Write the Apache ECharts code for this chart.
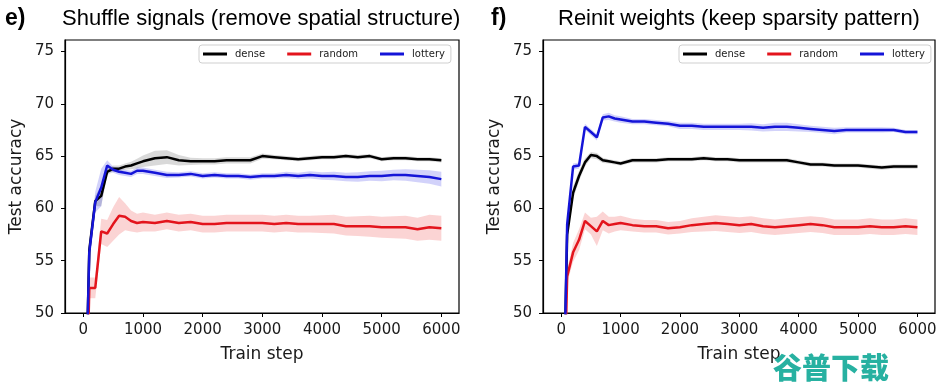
<!DOCTYPE html>
<html>
<head>
<meta charset="utf-8">
<script src="https://cdn.jsdelivr.net/npm/echarts@6/dist/echarts.min.js"></script>
<style>
html,body{margin:0;padding:0;background:#fff;}
#chart{width:952px;height:390px;}
</style>
</head>
<body>
<div id="chart"></div>
<script>
// ---- data ----
const steps = [50,100,200,300,400,500,600,700,800,900,1000,1200,1400,1600,1800,2000,2200,2400,2600,2800,3000,3200,3400,3600,3800,4000,4200,4400,4600,4800,5000,5200,5400,5600,5800,6000];
const xTicks = [0,1000,2000,3000,4000,5000,6000];
const yTicks = [50,55,60,65,70,75];
const seriesNames = ['dense','random','lottery'];

// panel e) Shuffle signals
const eDense   = [44,56.0,60.7,61.2,63.5,63.8,63.8,64.0,64.1,64.3,64.5,64.8,64.9,64.6,64.5,64.5,64.5,64.6,64.6,64.6,65.0,64.9,64.8,64.7,64.8,64.9,64.9,65.0,64.9,65.0,64.7,64.8,64.8,64.7,64.7,64.6];
const eRandom  = [40,52.4,52.4,57.8,57.6,58.5,59.3,59.2,58.8,58.6,58.7,58.6,58.8,58.6,58.7,58.5,58.5,58.6,58.6,58.6,58.6,58.5,58.6,58.5,58.5,58.5,58.5,58.3,58.3,58.3,58.2,58.2,58.2,58.0,58.2,58.1];
const eLottery = [44,55.8,60.6,62.0,64.1,63.7,63.5,63.4,63.3,63.6,63.6,63.4,63.2,63.2,63.3,63.1,63.2,63.1,63.1,63.0,63.1,63.1,63.2,63.1,63.2,63.1,63.1,63.0,63.0,63.1,63.1,63.2,63.2,63.1,63.0,62.8];
// band half-widths (from step 100 on)
const eDenseSd   = [0.8,0.5,1.0,0.3,0.3,0.3,0.3,0.35,0.45,0.55,0.7,0.65,0.5,0.35,0.3,0.3,0.3,0.3,0.3,0.25,0.2,0.2,0.2,0.2,0.2,0.2,0.2,0.2,0.2,0.2,0.2,0.2,0.2,0.2,0.2];
const eRandomSd  = [1.0,1.0,1.2,1.3,1.6,1.8,1.3,1.0,0.9,0.9,0.8,0.8,0.8,0.8,0.8,0.8,0.8,0.8,0.8,0.8,0.8,0.8,0.8,0.8,0.85,0.9,0.9,0.95,1.0,1.0,1.05,1.1,1.1,1.2,1.2];
const eLotterySd = [0.8,1.0,1.8,0.5,0.3,0.3,0.3,0.3,0.3,0.3,0.3,0.3,0.25,0.25,0.25,0.25,0.25,0.25,0.25,0.25,0.25,0.3,0.3,0.35,0.35,0.4,0.4,0.45,0.45,0.5,0.5,0.55,0.6,0.65,0.7];

// panel f) Reinit weights
const fDense   = [44,57.5,61.5,63.1,64.4,65.1,65.0,64.6,64.5,64.4,64.3,64.6,64.6,64.6,64.7,64.7,64.7,64.8,64.7,64.7,64.6,64.6,64.6,64.6,64.6,64.4,64.2,64.2,64.1,64.1,64.1,64.0,63.9,64.0,64.0,64.0];
const fRandom  = [42,53.5,55.8,57.0,58.8,58.3,57.8,58.8,58.4,58.5,58.6,58.4,58.3,58.3,58.1,58.2,58.4,58.5,58.6,58.5,58.4,58.5,58.3,58.2,58.3,58.4,58.5,58.4,58.2,58.2,58.2,58.3,58.2,58.2,58.3,58.2];
const fLottery = [44,58.5,64.0,64.1,67.8,67.3,66.8,68.7,68.8,68.6,68.5,68.3,68.3,68.2,68.1,67.9,67.9,67.8,67.8,67.8,67.8,67.8,67.7,67.8,67.8,67.7,67.6,67.5,67.4,67.5,67.5,67.5,67.5,67.5,67.3,67.3];
const fDenseSd   = [0.5,0.6,0.5,0.4,0.3,0.3,0.25,0.2,0.2,0.2,0.2,0.2,0.2,0.2,0.2,0.2,0.2,0.2,0.2,0.2,0.2,0.2,0.2,0.2,0.2,0.2,0.2,0.2,0.2,0.2,0.2,0.2,0.2,0.2,0.2];
const fRandomSd  = [0.6,0.9,1.0,0.8,0.8,1.4,0.9,0.8,0.7,0.7,0.6,0.6,0.6,0.6,0.6,0.65,0.7,0.75,0.75,0.75,0.75,0.75,0.75,0.75,0.75,0.75,0.75,0.75,0.75,0.75,0.75,0.75,0.75,0.75,0.75];
const fLotterySd = [0.3,0.3,0.3,0.3,0.3,0.3,0.3,0.35,0.3,0.3,0.25,0.25,0.25,0.25,0.3,0.3,0.3,0.3,0.3,0.3,0.35,0.35,0.4,0.4,0.35,0.3,0.3,0.3,0.25,0.25,0.25,0.25,0.2,0.2,0.2];

// ---- styles ----
const COLORS = {dense:'#000000', random:'#e3141c', lottery:'#1414d8'};
const BANDS  = {dense:'rgba(0,0,0,0.15)', random:'rgba(235,40,40,0.2)', lottery:'rgba(30,30,230,0.2)'};
const TICK_FONT = 'DejaVu Sans';

function lineSeries(name, idx, vals) {
  return {
    type:'line', name:name, xAxisIndex:idx, yAxisIndex:idx,
    data: steps.map((s,i)=>[s, vals[i]]),
    showSymbol:false, symbol:'none', clip:true, z:3,
    lineStyle:{color:COLORS[name], width:2.5},
    itemStyle:{color:COLORS[name]},
    animation:false
  };
}
function bandSeries(name, idx, vals, sd) {
  const xs = steps.slice(1);
  const lo = xs.map((s,i)=>vals[i+1]-sd[i]);
  const hi = xs.map((s,i)=>vals[i+1]+sd[i]);
  return {
    type:'custom', name:name+' band', xAxisIndex:idx, yAxisIndex:idx, silent:true, z:1,
    data: xs.map((s,i)=>[s, lo[i], hi[i]]),
    encode:{x:0, y:[1,2]},
    renderItem:function(params, api){
      if (params.dataIndex !== 0) return null;
      const up = [], dn = [];
      for (let i=0;i<xs.length;i++){
        up.push(api.coord([xs[i], hi[i]]));
        dn.push(api.coord([xs[i], lo[i]]));
      }
      return {type:'polygon', shape:{points: up.concat(dn.reverse())}, style:{fill:BANDS[name]}};
    },
    animation:false
  };
}
function xAxis(idx){
  return {
    type:'value', gridIndex:idx, min:-307, max:6296,
    name:'Train step', nameLocation:'middle', nameGap:33,
    nameTextStyle:{fontFamily:TICK_FONT, fontSize:17, color:'#1a1a1a'},
    axisLine:{show:true, onZero:false, lineStyle:{color:'#000', width:1.2}},
    axisTick:{show:true, inside:false, length:4, lineStyle:{color:'#000'}, customValues:xTicks},
    axisLabel:{fontFamily:TICK_FONT, fontSize:15, color:'#1a1a1a', margin:10, customValues:xTicks,
               formatter:function(v){return String(v);}},
    splitLine:{show:false}
  };
}
function yAxis(idx){
  return {
    type:'value', gridIndex:idx, min:50, max:76.1,
    name:'Test accuracy', nameLocation:'middle', nameGap:40, nameRotate:90,
    nameTextStyle:{fontFamily:TICK_FONT, fontSize:17, color:'#1a1a1a'},
    axisLine:{show:true, onZero:false, lineStyle:{color:'#000', width:1.2}},
    axisTick:{show:true, inside:false, length:4, lineStyle:{color:'#000'}, customValues:yTicks},
    axisLabel:{fontFamily:TICK_FONT, fontSize:15, color:'#1a1a1a', margin:11, customValues:yTicks,
               formatter:function(v){return String(v);}},
    splitLine:{show:false}
  };
}
function legend(left){
  return {
    left:left, top:45, orient:'horizontal', icon:'rect', itemWidth:24, itemHeight:3, itemGap:22,
    data: seriesNames, selectedMode:false,
    padding:[4,6,4,4], borderColor:'#cfcfcf', borderWidth:1, borderRadius:3,
    backgroundColor:'rgba(255,255,255,0.85)',
    textStyle:{fontFamily:TICK_FONT, fontSize:10, color:'#1a1a1a', padding:[0,0,0,3]}
  };
}

const chart = echarts.init(document.getElementById('chart'), null, {renderer:'canvas'});
chart.setOption({
  animation:false,
  backgroundColor:'#ffffff',
  grid:[
    {left:65, top:40, width:394, height:273, show:true, borderColor:'#000', borderWidth:1.2, backgroundColor:'transparent'},
    {left:543, top:40, width:392, height:273, show:true, borderColor:'#000', borderWidth:1.2, backgroundColor:'transparent'}
  ],
  xAxis:[xAxis(0), xAxis(1)],
  yAxis:[yAxis(0), yAxis(1)],
  legend:[legend(199), legend(679)],
  graphic:[
    {type:'text', left:5, top:7, style:{text:'e)', font:'bold 23px "Liberation Sans", Arial', fill:'#000'}},
    {type:'text', left:62, top:8, style:{text:'Shuffle signals (remove spatial structure)', font:'22px "Liberation Sans", Arial', fill:'#000'}},
    {type:'text', left:491, top:7, style:{text:'f)', font:'bold 23px "Liberation Sans", Arial', fill:'#000'}},
    {type:'text', left:558, top:8, style:{text:'Reinit weights (keep sparsity pattern)', font:'22px "Liberation Sans", Arial', fill:'#000'}},
    {type:'text', left:773, top:353, z:100, style:{text:'谷普下载', font:'900 29px "Noto Sans CJK SC"', fill:'#27b1a1'}}
  ],
  series:[
    bandSeries('dense',0,eDense,eDenseSd),
    bandSeries('random',0,eRandom,eRandomSd),
    bandSeries('lottery',0,eLottery,eLotterySd),
    lineSeries('dense',0,eDense),
    lineSeries('random',0,eRandom),
    lineSeries('lottery',0,eLottery),
    bandSeries('dense',1,fDense,fDenseSd),
    bandSeries('random',1,fRandom,fRandomSd),
    bandSeries('lottery',1,fLottery,fLotterySd),
    lineSeries('dense',1,fDense),
    lineSeries('random',1,fRandom),
    lineSeries('lottery',1,fLottery)
  ]
});
</script>
</body>
</html>
